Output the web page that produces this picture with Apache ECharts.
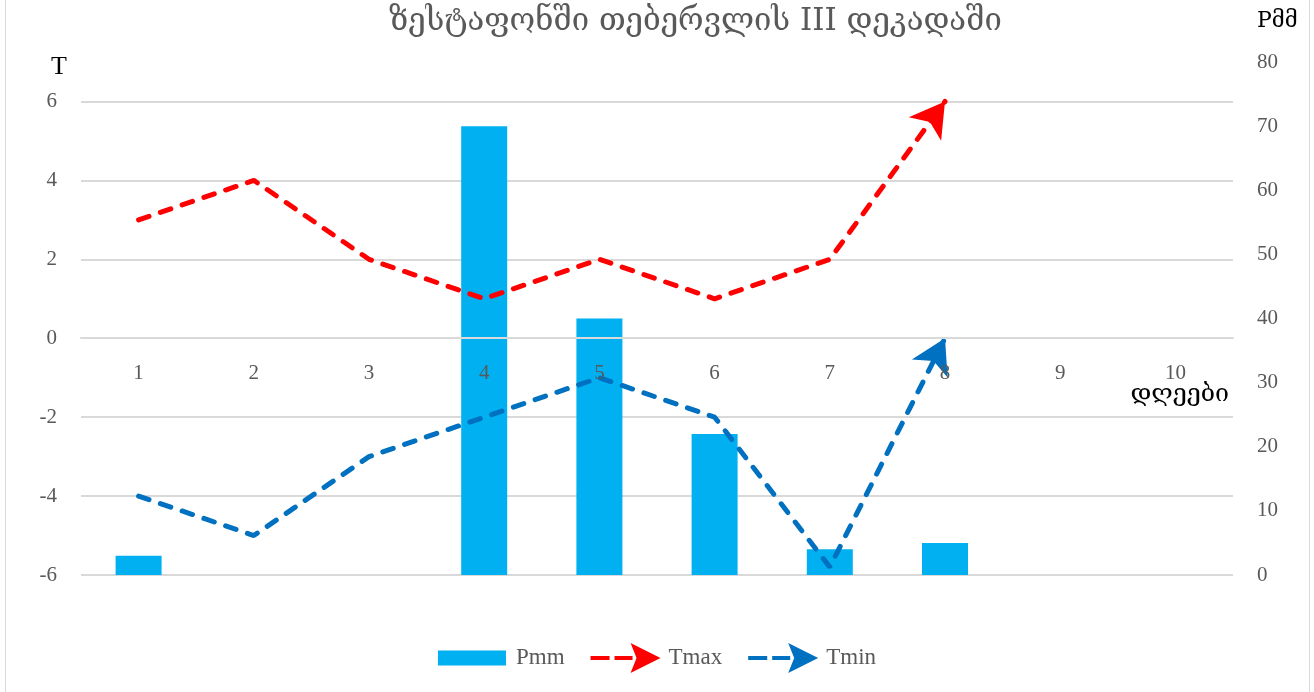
<!DOCTYPE html>
<html>
<head>
<meta charset="utf-8">
<script src="https://cdn.jsdelivr.net/npm/echarts@6/dist/echarts.min.js"></script>
<style>
html,body{margin:0;padding:0;background:#fff;}
#frame{position:absolute;left:5px;top:0;width:1303px;height:692px;border-left:1px solid #d9d9d9;border-right:1px solid #d9d9d9;}
#chart{position:absolute;left:0;top:0;width:1314px;height:692px;}
</style>
</head>
<body>
<div id="frame"></div>
<div id="chart"></div>
<script>
const titleText = 'ზესტაფონში თებერვლის III დეკადაში';
const days = ['1','2','3','4','5','6','7','8','9','10'];
const pmm = [3, 0, 0, 70, 40, 22, 4, 5, 0, 0];
const tmax = [3, 4, 2, 1, 2, 1, 2, 6];
const tmin = [-4, -5, -3, -2, -1, -2, -5.8, 0];
const tTicks = [-6, -4, -2, 0, 2, 4, 6];
const pTicks = [0, 10, 20, 30, 40, 50, 60, 70, 80];

const serif = '"Liberation Serif", "DejaVu Serif", serif';
const geo = '"DejaVu Serif", "Liberation Serif", serif';
const txt = '#595959';
const red = '#FF0000';
const blue = '#0070C0';
const cyan = '#00B0F0';

const lineIcon = 'path://M0,0 L0.01,0 L0,0.01 Z M0,13 L19,13 L19,17 L0,17 Z M24,13 L42,13 L42,17 L24,17 Z M40,0 L70,15 L40,30 L46,15 Z';
const barIcon = 'path://M0,0 L0.01,0 L0,0.01 Z M0,7.5 L68,7.5 L68,22.5 L0,22.5 Z M70,30 L69.99,30 L70,29.99 Z';

function lineData(vals) {
  return vals.map(v => ({ value: v, symbol: 'none' }));
}

const chart = echarts.init(document.getElementById('chart'));
const option = {
  animation: false,
  title: {
    text: titleText, left: 384, top: 1,
    textStyle: { fontFamily: geo, fontSize: 31, fontWeight: 'normal', color: txt }
  },
  legend: {
    bottom: 14, left: 'center', itemWidth: 70, itemHeight: 30, itemGap: 26,
    textStyle: { fontFamily: serif, fontSize: 23, color: txt, padding: [0, 0, 0, 3] },
    data: [
      { name: 'Pmm', icon: barIcon, itemStyle: { color: cyan } },
      { name: 'Tmax', icon: lineIcon, itemStyle: { color: red } },
      { name: 'Tmin', icon: lineIcon, itemStyle: { color: blue } }
    ]
  },
  grid: { left: 81, right: 81, top: 62, bottom: 117, containLabel: false, outerBoundsMode: 'none' },
  xAxis: {
    type: 'category', data: days, z: 5, offset: 0,
    axisLine: { onZero: false, lineStyle: { color: '#d9d9d9', width: 2 } },
    axisTick: { show: false },
    axisLabel: { color: txt, fontFamily: serif, fontSize: 21, margin: 25 },
    name: 'დღეები', nameLocation: 'end', nameGap: -4, nameMoveOverlap: false,
    nameTextStyle: { fontFamily: geo, fontSize: 25, color: '#000', align: 'right', verticalAlign: 'top', padding: [44, 0, 0, 0] }
  },
  yAxis: [
    {
      type: 'value', min: -6, max: 7, interval: 2,
      axisLine: { show: false }, axisTick: { show: false },
      splitLine: { show: true, showMaxLine: false, lineStyle: { color: '#d9d9d9', width: 2 } },
      axisLabel: { color: txt, fontFamily: serif, fontSize: 21, margin: 24, showMaxLabel: false,
        formatter: v => (tTicks.indexOf(v) >= 0 ? String(v) : '') },
      name: 'T', nameLocation: 'end', nameGap: -18, nameMoveOverlap: false,
      nameTextStyle: { fontFamily: serif, fontSize: 26, color: '#000', align: 'right', padding: [0, 14, 0, 0] }
    },
    {
      type: 'value', min: 0, max: 80, interval: 10, position: 'right',
      axisLine: { show: false }, axisTick: { show: false }, splitLine: { show: false },
      axisLabel: { color: txt, fontFamily: serif, fontSize: 21, margin: 24,
        formatter: v => (pTicks.indexOf(v) >= 0 ? String(v) : '') },
      name: 'Pმმ', nameLocation: 'end', nameGap: 30, nameMoveOverlap: false,
      nameTextStyle: { fontFamily: geo, fontSize: 22, color: '#000', align: 'left', padding: [0, 0, 0, 24] }
    }
  ],
  series: [
    { name: 'Pmm', type: 'bar', yAxisIndex: 1, data: pmm, barWidth: 46, itemStyle: { color: cyan }, z: 2 },
    { name: 'Tmax', type: 'line', yAxisIndex: 0, data: lineData(tmax), symbolSize: [30, 34], z: 3,
      lineStyle: { color: red, width: 5, type: [11, 12], cap: 'round' }, itemStyle: { color: red } },
    { name: 'Tmin', type: 'line', yAxisIndex: 0, data: lineData(tmin), symbolSize: [30, 34], z: 3,
      lineStyle: { color: blue, width: 5, type: [11, 12], cap: 'round' }, itemStyle: { color: blue } }
  ]
};
chart.setOption(option);

function arrowize(vals) {
  const n = vals.length;
  const a = chart.convertToPixel({ xAxisIndex: 0, yAxisIndex: 0 }, [n - 2, vals[n - 2]]);
  const b = chart.convertToPixel({ xAxisIndex: 0, yAxisIndex: 0 }, [n - 1, vals[n - 1]]);
  const dx = b[0] - a[0], dy = b[1] - a[1];
  const theta = Math.atan2(dx, -dy) * 180 / Math.PI;
  const data = lineData(vals);
  data[n - 1] = { value: vals[n - 1], symbol: 'arrow', symbolRotate: -theta };
  return data;
}
const zeroY = chart.convertToPixel({ yAxisIndex: 0 }, 0);
const bottomY = chart.convertToPixel({ yAxisIndex: 0 }, -6);
chart.setOption({
  xAxis: { offset: -(bottomY - zeroY) },
  series: [{}, { data: arrowize(tmax) }, { data: arrowize(tmin) }]
});
</script>
</body>
</html>
